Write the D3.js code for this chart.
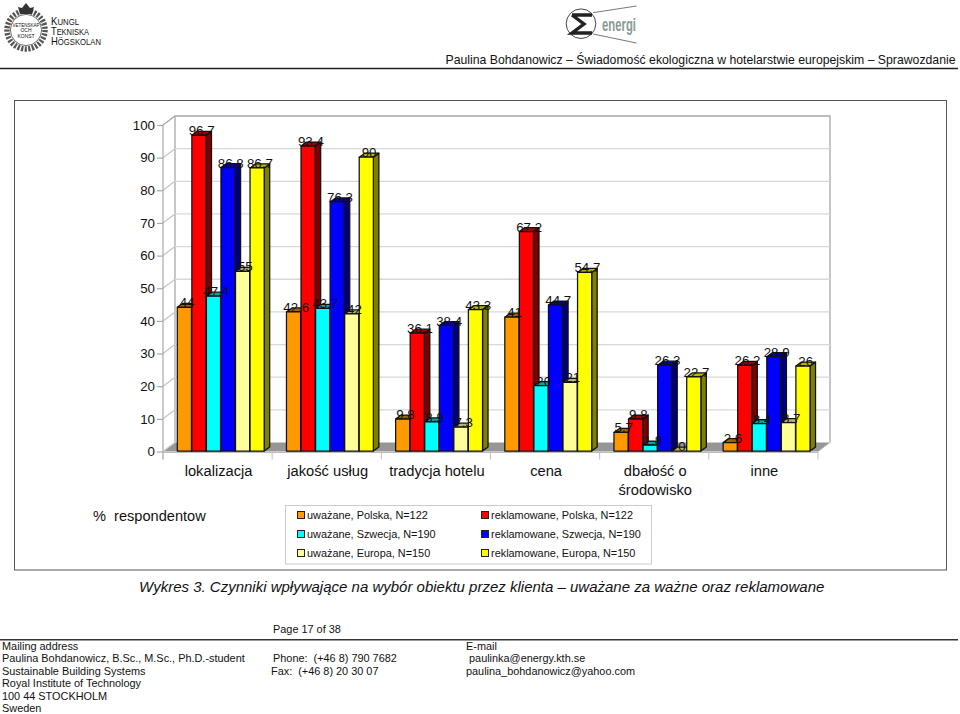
<!DOCTYPE html>
<html><head><meta charset="utf-8">
<script src="https://d3js.org/d3.v7.min.js"></script>
<style>html,body{margin:0;padding:0;background:#fff}svg{display:block}text{font-family:"Liberation Sans",Arial,sans-serif;fill:#111}</style>
</head><body><svg id="c" width="960" height="714"></svg>
<script>
const categories = ["lokalizacja","jakość usług","tradycja hotelu","cena","dbałość o środowisko","inne"];
const seriesNames = ["uważane, Polska, N=122","reklamowane, Polska, N=122","uważane, Szwecja, N=190","reklamowane, Szwecja, N=190","uważane, Europa, N=150","reklamowane, Europa, N=150"];
const uwazanePolska = [44,42.6,9.8,41,5.7,2.6];
const reklamowanePolska = [96.7,93.4,36.1,67.2,9.8,26.2];
const uwazaneSzwecja = [47.4,43.7,8.9,20,1.8,8.4];
const reklamowaneSzwecja = [86.8,76.3,38.4,44.7,26.3,28.9];
const uwazaneEuropa = [55,42,7.3,21,0,8.7];
const reklamowaneEuropa = [86.7,90,43.3,54.7,22.7,26];
const seriesValues = [uwazanePolska,reklamowanePolska,uwazaneSzwecja,reklamowaneSzwecja,uwazaneEuropa,reklamowaneEuropa];
const fills = ["#ff9900","#ff0000","#00ffff","#0000ff","#ffff99","#ffff00"];
const sides = ["#7f4c00","#7f0000","#007f7f","#00007f","#7f7f4c","#7f7f00"];
const tops = ["#a56300","#a50000","#00a5a5","#0000a5","#b5b56c","#b5b500"];
const yTicks = [0,10,20,30,40,50,60,70,80,90,100];
const axisTitle = "%  respondentow";
const caption = "Wykres 3. Czynniki wpływające na wybór obiektu przez klienta – uważane za ważne oraz reklamowane";
const headerText = "Paulina Bohdanowicz – Świadomość ekologiczna w hotelarstwie europejskim – Sprawozdanie";
const pageText = "Page 17 of 38";
const footerLeft = ["Mailing address","Paulina Bohdanowicz, B.Sc., M.Sc., Ph.D.-student","Sustainable Building Systems","Royal Institute of Technology","100 44 STOCKHOLM","Sweden"];
const footerMid = ["Phone:  (+46 8) 790 7682","Fax:  (+46 8) 20 30 07"];
const footerRight = ["E-mail"," paulinka@energy.kth.se","paulina_bohdanowicz@yahoo.com"];

const svg = d3.select("#c");
const dx = 12, dy = 9, bx = 5.5, by = 4;
const y = d3.scaleLinear().domain([0,100]).range([451.5,125]);
const x = d3.scaleBand().domain(categories).range([163,818]);
const inner = d3.scaleBand().domain(d3.range(6)).range([0,87.3]);
const barOffset = 14.3;

const rule = (x1,yy,x2,w,c)=>svg.append("line").attr("x1",x1).attr("x2",x2).attr("y1",yy).attr("y2",yy).attr("stroke",c||"#222").attr("stroke-width",w);
rule(0,68.5,958,1.3); rule(0,639.7,958,1.6,"#333");
svg.append("rect").attr("x",14.5).attr("y",100.5).attr("width",932).attr("height",469.5).attr("fill","#fff").attr("stroke","#555").attr("stroke-width",1);

// KTH logo
const k = svg.append("g").attr("transform","translate(26,30)");
k.append("circle").attr("r",19).attr("fill","none").attr("stroke","#555").attr("stroke-width",5.5).attr("stroke-dasharray","2.2 1.4");
k.append("circle").attr("r",15.6).attr("fill","#fff").attr("stroke","#333").attr("stroke-width",.7);
k.append("path").attr("d","M-6,-16 L-8,-23 L-4,-22 L0,-27 L4,-22 L8,-23 L6,-16 Z").attr("fill","#333");
[["VETENSKAP",-3.5,27],["OCH",2.2,11],["KONST",8,17]].forEach(d=>k.append("text").attr("y",d[1]).attr("text-anchor","middle").attr("font-size",5).attr("textLength",d[2]).attr("lengthAdjust","spacingAndGlyphs").text(d[0]));
[["K","UNGL",24.5,28],["T","EKNISKA",34.7,38],["H","ÖGSKOLAN",44.7,50]].forEach(d=>{
  const t = svg.append("text").attr("x",51).attr("y",d[2]).attr("font-size",10.5).attr("textLength",d[3]).attr("lengthAdjust","spacingAndGlyphs");
  t.append("tspan").text(d[0]); t.append("tspan").attr("font-size",8.5).text(d[1]);
});
// energi logo
const e = svg.append("g");
e.append("path").attr("d","M593,12.7 L636.5,6 M593,34 L636.5,43").attr("stroke","#555").attr("fill","none").attr("stroke-width",.8);
e.append("circle").attr("cx",581).attr("cy",23.7).attr("r",14.8).attr("fill","#fff").attr("stroke","#333").attr("stroke-width",.9);
e.append("path").attr("d","M572,15 H592 M572,15 L584,24 L572,33 H592").attr("fill","none").attr("stroke","#222").attr("stroke-width",3.4);
e.append("text").attr("x",602).attr("y",31).attr("font-size",18).attr("font-weight","bold").attr("textLength",34).attr("lengthAdjust","spacingAndGlyphs").style("fill","#8a9a94").text("energi");

svg.append("text").attr("x",955.5).attr("y",63.5).attr("text-anchor","end").attr("font-size",12.25).text(headerText);

// walls and floor
const g = svg.append("g");
const x0=x.range()[0], x1=x.range()[1];
g.append("path").attr("d",`M${x0},${y(0)} L${x0+dx},${y(0)-dy} L${x1+dx},${y(0)-dy} L${x1},${y(0)} Z`).attr("fill","#969696");
g.append("path").attr("d",`M${x0},${y(100)} L${x0+dx},${y(100)-dy} L${x1+dx},${y(100)-dy} L${x1+dx},${y(0)-dy}`).attr("fill","none").attr("stroke","#a8a8a8").attr("stroke-width",1.3);
g.append("line").attr("x1",x0+dx).attr("x2",x0+dx).attr("y1",y(100)-dy).attr("y2",y(0)-dy).attr("stroke","#a8a8a8").attr("stroke-width",1.3);
yTicks.slice(0,-1).forEach(t=>{
  if(t>0) g.append("line").attr("x1",x0+dx).attr("x2",x1+dx).attr("y1",y(t)-dy).attr("y2",y(t)-dy).attr("stroke","#d8d8d8").attr("stroke-width",1.3);
  g.append("line").attr("x1",x0).attr("x2",x0+dx).attr("y1",y(t)).attr("y2",y(t)-dy).attr("stroke","#c4c4c4").attr("stroke-width",1.2);
});
g.append("line").attr("x1",x0).attr("x2",x0).attr("y1",y(100)).attr("y2",y(0)+8).attr("stroke","#a8a8a8").attr("stroke-width",1.2);
g.append("line").attr("x1",x0).attr("x2",x1).attr("y1",y(0)+1).attr("y2",y(0)+1).attr("stroke","#bbb");
g.append("line").attr("x1",x1).attr("x2",x1+dx).attr("y1",y(0)).attr("y2",y(0)-dy).attr("stroke","#bbb");

// axis
const axis = d3.axisLeft(y).tickValues(yTicks).tickSize(6).tickPadding(5);
const ag = svg.append("g").attr("transform",`translate(${x0},0)`).call(axis);
ag.select(".domain").remove();
ag.selectAll("line").attr("stroke","#a8a8a8").attr("stroke-width",1.2);
ag.selectAll("text").attr("font-size",13.3).style("fill","#111").attr("x",-8);
x.domain().concat(["end"]).forEach((c,i)=>{
  const xx = x0 + i*x.step();
  g.append("line").attr("x1",xx).attr("x2",xx).attr("y1",y(0)).attr("y2",y(0)+8).attr("stroke","#c0c0c0");
});

// bars
const bars = svg.append("g"), labels = svg.append("g");
categories.forEach((c,ci)=>{
  d3.range(6).forEach(si=>{
    const v = seriesValues[si][ci];
    const l = x(c)+barOffset+inner(si), w = inner.bandwidth()-.4, t = y(v)-.5, b = y(0)-.5;
    const b1 = bars.append("g").attr("stroke","#111").attr("stroke-width",1.25).attr("stroke-linejoin","round");
    b1.append("path").attr("d",`M${l+w},${t} l${bx},${-by} V${b-by} L${l+w},${b} Z`).attr("fill",sides[si]);
    b1.append("path").attr("d",`M${l},${t} l${bx},${-by} h${w} l${-bx},${by} Z`).attr("fill",tops[si]);
    b1.append("rect").attr("x",l).attr("y",t).attr("width",w).attr("height",b-t).attr("fill",fills[si]);
    labels.append("text").attr("x",l+w/2+bx/2).attr("y",t).attr("text-anchor","middle").attr("font-size",13.3).text(v);
  });
});

// category labels
categories.forEach(c=>{
  const cx = x(c)+x.bandwidth()/2+1;
  const lines = c==="dbałość o środowisko" ? ["dbałość o","środowisko"] : [c];
  lines.forEach((s,i)=>svg.append("text").attr("x",cx).attr("y",476+i*19).attr("text-anchor","middle").attr("font-size",14.7).text(s));
});
svg.append("text").attr("x",93).attr("y",521).attr("font-size",14.6).style("white-space","pre").text(axisTitle);

// legend
svg.append("rect").attr("x",285.5).attr("y",505.5).attr("width",366).attr("height",58.5).attr("fill","#fff").attr("stroke","#ccc");
seriesNames.forEach((n,i)=>{
  const col = i%2, row = (i-col)/2, lx = 297.5+col*184, ly = 515+row*19;
  svg.append("rect").attr("x",lx).attr("y",ly-3.5).attr("width",7).attr("height",7).attr("fill",fills[i]).attr("stroke","#222");
  svg.append("text").attr("x",lx+9.5).attr("y",ly+4).attr("font-size",10.9).text(n);
});

svg.append("text").attr("x",139).attr("y",592).attr("font-size",15).attr("font-style","italic").text(caption);
svg.append("text").attr("x",273).attr("y",633).attr("font-size",10.9).text(pageText);
footerLeft.forEach((s,i)=>svg.append("text").attr("x",2).attr("y",649.5+i*12.55).attr("font-size",10.9).text(s));
footerMid.forEach((s,i)=>svg.append("text").attr("x",i?271:273).attr("y",662+i*12.55).attr("font-size",10.9).style("white-space","pre").text(s));
footerRight.forEach((s,i)=>svg.append("text").attr("x",466).attr("y",649.5+i*12.55).attr("font-size",10.9).style("white-space","pre").text(s));
</script></body></html>
